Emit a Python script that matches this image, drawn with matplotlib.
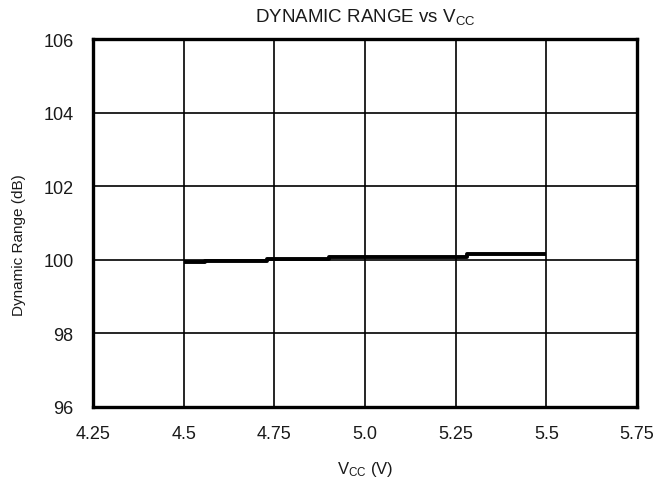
import matplotlib
matplotlib.use("Agg")
import matplotlib.pyplot as plt

plt.rcParams['font.family'] = ['Liberation Sans', 'DejaVu Sans']
plt.rcParams['mathtext.default'] = 'regular'

# Supply voltage breakpoints (V) and dynamic range (dB) on each segment
vcc = [4.50, 4.56, 4.73, 4.90, 5.28, 5.50]
dyn_range = [99.95, 99.98, 100.03, 100.08, 100.15, 100.15]

x_ticks = [4.25, 4.5, 4.75, 5.0, 5.25, 5.5, 5.75]
x_labels = ['4.25', '4.5', '4.75', '5.0', '5.25', '5.5', '5.75']
y_ticks = [96, 98, 100, 102, 104, 106]

fig = plt.figure(figsize=(6.54, 4.85), dpi=100)
ax = fig.add_axes([0.1422, 0.1588, 0.832, 0.7587])

ax.plot(vcc, dyn_range, drawstyle='steps-post', color='black', linewidth=2.8,
        solid_capstyle='butt', zorder=3)

ax.set_xlim(4.25, 5.75)
ax.set_ylim(96, 106)
ax.set_xticks(x_ticks)
ax.set_xticklabels(x_labels)
ax.set_yticks(y_ticks)
ax.grid(True, color='black', linewidth=1.2)
ax.tick_params(length=0, labelsize=13, colors='#1a1a1a')
ax.tick_params(axis='y', pad=14)
ax.tick_params(axis='x', pad=13)
for s in ax.spines.values():
    s.set_linewidth(2.4)
    s.set_color('black')

ax.set_title('DYNAMIC RANGE vs V$_{CC}$', fontsize=13.5, pad=13, color='#1a1a1a')
ax.set_xlabel('V$_{CC}$ (V)', fontsize=12, labelpad=12, color='#1a1a1a')
ax.set_ylabel('Dynamic Range (dB)', fontsize=11, color='#1a1a1a')
ax.yaxis.set_label_coords(-0.124, 0.443)

fig.savefig('out.png', dpi=100)
